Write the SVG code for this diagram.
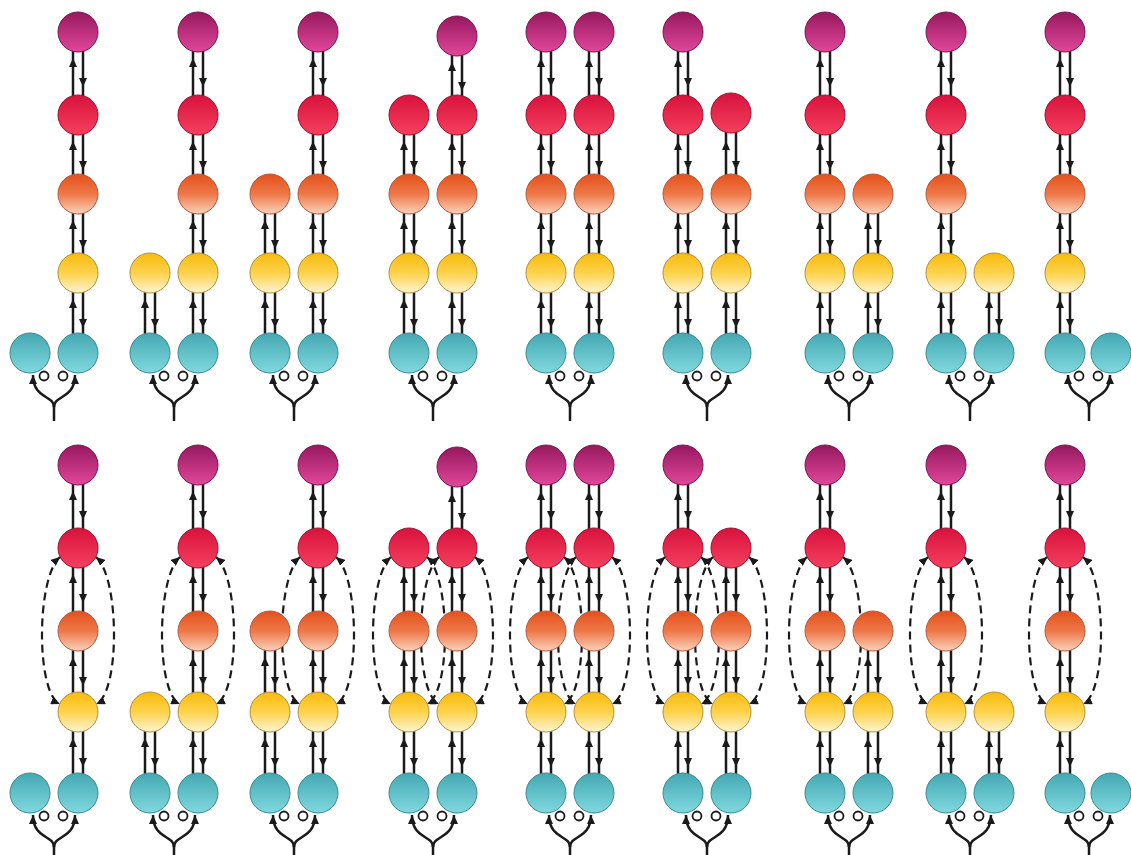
<svg xmlns="http://www.w3.org/2000/svg" xmlns:xlink="http://www.w3.org/1999/xlink" width="1131" height="855" viewBox="0 0 1131 855">
<style>
circle.m,circle.r,circle.o,circle.y,circle.t{r:20px}
.m{fill:url(#gm);stroke:#7a1450;stroke-width:1}
.r{fill:url(#gr);stroke:#a01030;stroke-width:1}
.o{fill:url(#go);stroke:#b05a40;stroke-width:1}
.y{fill:url(#gy);stroke:#b09040;stroke-width:1}
.t{fill:url(#gt);stroke:#3a8a92;stroke-width:1}
.ln{fill:none;stroke:#1a1a1a;stroke-width:2.5}
.ds{fill:none;stroke:#1a1a1a;stroke-width:2.2;stroke-dasharray:8 5}
.lp{fill:#fff;stroke:#1a1a1a;stroke-width:1.8}
</style>
<defs>
<linearGradient id="gm" x1="0" y1="0" x2="0" y2="1"><stop offset="0" stop-color="#96185f"/><stop offset="1" stop-color="#e2479a"/></linearGradient>
<linearGradient id="gr" x1="0" y1="0" x2="0" y2="1"><stop offset="0" stop-color="#d8123d"/><stop offset="1" stop-color="#f5405e"/></linearGradient>
<linearGradient id="go" x1="0" y1="0" x2="0" y2="1"><stop offset="0" stop-color="#e4501c"/><stop offset="0.5" stop-color="#ee7848"/><stop offset="1" stop-color="#fbd2bc"/></linearGradient>
<linearGradient id="gy" x1="0" y1="0" x2="0" y2="1"><stop offset="0" stop-color="#f8bb0c"/><stop offset="0.5" stop-color="#fdd24c"/><stop offset="1" stop-color="#fff4d4"/></linearGradient>
<linearGradient id="gt" x1="0" y1="0" x2="0" y2="1"><stop offset="0" stop-color="#44a8b2"/><stop offset="1" stop-color="#80d8de"/></linearGradient>
<marker id="ah" viewBox="0 0 9 8" refX="9" refY="4" markerWidth="9" markerHeight="8" markerUnits="userSpaceOnUse" orient="auto"><path d="M0,0 L9,4 L0,8 z" fill="#1a1a1a"/></marker>
<marker id="ad" viewBox="0 0 9 8" refX="9" refY="4" markerWidth="9" markerHeight="8" markerUnits="userSpaceOnUse" orient="auto-start-reverse"><path d="M0,0 L9,4 L0,8 z" fill="#1a1a1a"/></marker>
<g id="e">
<path class="ln" d="M-5,66 L-5,26 L-5,15" marker-mid="url(#ah)"/>
<path class="ln" d="M5,15 L5,55 L5,66" marker-mid="url(#ah)"/>
</g>
<g id="yc">
<path class="ln" d="M24,68 L24,52"/>
<path class="ln" d="M24,54 C24,42 3,46 3,22" marker-end="url(#ah)"/>
<path class="ln" d="M24,54 C24,42 45,46 45,22" marker-end="url(#ah)"/>
<circle class="lp" cx="14" cy="23" r="4.5"/>
<circle class="lp" cx="33" cy="23" r="4.5"/>
</g>
<g id="el">
<path class="ds" d="M-18,9 C-42,30 -42,146 -18,156" marker-start="url(#ad)" marker-end="url(#ad)"/>
<path class="ds" d="M18,9 C42,30 42,146 18,156" marker-start="url(#ad)" marker-end="url(#ad)"/>
</g>
</defs>
<g id="connectors">
<use href="#e" x="78" y="32"/><use href="#e" x="78" y="115"/><use href="#e" x="78" y="194"/><use href="#e" x="78" y="273"/>
<use href="#e" x="198" y="32"/><use href="#e" x="198" y="115"/><use href="#e" x="198" y="194"/><use href="#e" x="198" y="273"/><use href="#e" x="150" y="273"/>
<use href="#e" x="318" y="32"/><use href="#e" x="318" y="115"/><use href="#e" x="318" y="194"/><use href="#e" x="318" y="273"/><use href="#e" x="270" y="194"/><use href="#e" x="270" y="273"/>
<use href="#e" x="457" y="36"/><use href="#e" x="457" y="115"/><use href="#e" x="457" y="194"/><use href="#e" x="457" y="273"/><use href="#e" x="409" y="115"/><use href="#e" x="409" y="194"/><use href="#e" x="409" y="273"/>
<use href="#e" x="546" y="32"/><use href="#e" x="546" y="115"/><use href="#e" x="546" y="194"/><use href="#e" x="546" y="273"/><use href="#e" x="594" y="32"/><use href="#e" x="594" y="115"/><use href="#e" x="594" y="194"/><use href="#e" x="594" y="273"/>
<use href="#e" x="683" y="32"/><use href="#e" x="683" y="115"/><use href="#e" x="683" y="194"/><use href="#e" x="683" y="273"/><use href="#e" x="731" y="115"/><use href="#e" x="731" y="194"/><use href="#e" x="731" y="273"/>
<use href="#e" x="825" y="32"/><use href="#e" x="825" y="115"/><use href="#e" x="825" y="194"/><use href="#e" x="825" y="273"/><use href="#e" x="873" y="194"/><use href="#e" x="873" y="273"/>
<use href="#e" x="946" y="32"/><use href="#e" x="946" y="115"/><use href="#e" x="946" y="194"/><use href="#e" x="946" y="273"/><use href="#e" x="994" y="273"/>
<use href="#e" x="1065" y="32"/><use href="#e" x="1065" y="115"/><use href="#e" x="1065" y="194"/><use href="#e" x="1065" y="273"/>
<use href="#yc" x="30" y="353"/><use href="#yc" x="150" y="353"/><use href="#yc" x="270" y="353"/><use href="#yc" x="409" y="353"/><use href="#yc" x="546" y="353"/><use href="#yc" x="683" y="353"/><use href="#yc" x="825" y="353"/><use href="#yc" x="946" y="353"/><use href="#yc" x="1065" y="353"/>

<use href="#e" x="78" y="465"/><use href="#e" x="78" y="548"/><use href="#e" x="78" y="631"/><use href="#e" x="78" y="712"/>
<use href="#e" x="198" y="465"/><use href="#e" x="198" y="548"/><use href="#e" x="198" y="631"/><use href="#e" x="198" y="712"/><use href="#e" x="150" y="712"/>
<use href="#e" x="318" y="465"/><use href="#e" x="318" y="548"/><use href="#e" x="318" y="631"/><use href="#e" x="318" y="712"/><use href="#e" x="270" y="631"/><use href="#e" x="270" y="712"/>
<use href="#e" x="457" y="467"/><use href="#e" x="457" y="548"/><use href="#e" x="457" y="631"/><use href="#e" x="457" y="712"/><use href="#e" x="409" y="548"/><use href="#e" x="409" y="631"/><use href="#e" x="409" y="712"/>
<use href="#e" x="546" y="465"/><use href="#e" x="546" y="548"/><use href="#e" x="546" y="631"/><use href="#e" x="546" y="712"/><use href="#e" x="594" y="465"/><use href="#e" x="594" y="548"/><use href="#e" x="594" y="631"/><use href="#e" x="594" y="712"/>
<use href="#e" x="683" y="465"/><use href="#e" x="683" y="548"/><use href="#e" x="683" y="631"/><use href="#e" x="683" y="712"/><use href="#e" x="731" y="548"/><use href="#e" x="731" y="631"/><use href="#e" x="731" y="712"/>
<use href="#e" x="825" y="465"/><use href="#e" x="825" y="548"/><use href="#e" x="825" y="631"/><use href="#e" x="825" y="712"/><use href="#e" x="873" y="631"/><use href="#e" x="873" y="712"/>
<use href="#e" x="946" y="465"/><use href="#e" x="946" y="548"/><use href="#e" x="946" y="631"/><use href="#e" x="946" y="712"/><use href="#e" x="994" y="712"/>
<use href="#e" x="1065" y="465"/><use href="#e" x="1065" y="548"/><use href="#e" x="1065" y="631"/><use href="#e" x="1065" y="712"/>
<use href="#yc" x="30" y="793"/><use href="#yc" x="150" y="793"/><use href="#yc" x="270" y="793"/><use href="#yc" x="409" y="793"/><use href="#yc" x="546" y="793"/><use href="#yc" x="683" y="793"/><use href="#yc" x="825" y="793"/><use href="#yc" x="946" y="793"/><use href="#yc" x="1065" y="793"/>
<use href="#el" x="78" y="548"/><use href="#el" x="198" y="548"/><use href="#el" x="318" y="548"/><use href="#el" x="409" y="548"/><use href="#el" x="457" y="548"/><use href="#el" x="546" y="548"/><use href="#el" x="594" y="548"/><use href="#el" x="683" y="548"/><use href="#el" x="731" y="548"/><use href="#el" x="825" y="548"/><use href="#el" x="946" y="548"/><use href="#el" x="1065" y="548"/>
</g>
<g id="nodes-top">
<g id="a1m"><circle class="m" cx="78" cy="32" r="20"/></g><g id="a1r"><circle class="r" cx="78" cy="115" r="20"/></g><g id="a1o"><circle class="o" cx="78" cy="194" r="20"/></g><g id="a1y"><circle class="y" cx="78" cy="273" r="20"/></g><g id="a1t"><circle class="t" cx="78" cy="353" r="20"/></g><g id="a1t2"><circle class="t" cx="30" cy="353" r="20"/></g>
<g id="a2m"><circle class="m" cx="198" cy="32" r="20"/></g><g id="a2r"><circle class="r" cx="198" cy="115" r="20"/></g><g id="a2o"><circle class="o" cx="198" cy="194" r="20"/></g><g id="a2y"><circle class="y" cx="198" cy="273" r="20"/></g><g id="a2t"><circle class="t" cx="198" cy="353" r="20"/></g><g id="a2y2"><circle class="y" cx="150" cy="273" r="20"/></g><g id="a2t2"><circle class="t" cx="150" cy="353" r="20"/></g>
<g id="a3m"><circle class="m" cx="318" cy="32" r="20"/></g><g id="a3r"><circle class="r" cx="318" cy="115" r="20"/></g><g id="a3o"><circle class="o" cx="318" cy="194" r="20"/></g><g id="a3y"><circle class="y" cx="318" cy="273" r="20"/></g><g id="a3t"><circle class="t" cx="318" cy="353" r="20"/></g><g id="a3o2"><circle class="o" cx="270" cy="194" r="20"/></g><g id="a3y2"><circle class="y" cx="270" cy="273" r="20"/></g><g id="a3t2"><circle class="t" cx="270" cy="353" r="20"/></g>
<g id="a4m"><circle class="m" cx="457" cy="36" r="20"/></g><g id="a4r"><circle class="r" cx="457" cy="115" r="20"/></g><g id="a4o"><circle class="o" cx="457" cy="194" r="20"/></g><g id="a4y"><circle class="y" cx="457" cy="273" r="20"/></g><g id="a4t"><circle class="t" cx="457" cy="353" r="20"/></g><g id="a4r2"><circle class="r" cx="409" cy="115" r="20"/></g><g id="a4o2"><circle class="o" cx="409" cy="194" r="20"/></g><g id="a4y2"><circle class="y" cx="409" cy="273" r="20"/></g><g id="a4t2"><circle class="t" cx="409" cy="353" r="20"/></g>
<g id="a5m"><circle class="m" cx="546" cy="32" r="20"/></g><g id="a5r"><circle class="r" cx="546" cy="115" r="20"/></g><g id="a5o"><circle class="o" cx="546" cy="194" r="20"/></g><g id="a5y"><circle class="y" cx="546" cy="273" r="20"/></g><g id="a5t"><circle class="t" cx="546" cy="353" r="20"/></g><g id="a5m2"><circle class="m" cx="594" cy="32" r="20"/></g><g id="a5r2"><circle class="r" cx="594" cy="115" r="20"/></g><g id="a5o2"><circle class="o" cx="594" cy="194" r="20"/></g><g id="a5y2"><circle class="y" cx="594" cy="273" r="20"/></g><g id="a5t2"><circle class="t" cx="594" cy="353" r="20"/></g>
<g id="a6m"><circle class="m" cx="683" cy="32" r="20"/></g><g id="a6r"><circle class="r" cx="683" cy="115" r="20"/></g><g id="a6o"><circle class="o" cx="683" cy="194" r="20"/></g><g id="a6y"><circle class="y" cx="683" cy="273" r="20"/></g><g id="a6t"><circle class="t" cx="683" cy="353" r="20"/></g><g id="a6r2"><circle class="r" cx="731" cy="113" r="20"/></g><g id="a6o2"><circle class="o" cx="731" cy="194" r="20"/></g><g id="a6y2"><circle class="y" cx="731" cy="273" r="20"/></g><g id="a6t2"><circle class="t" cx="731" cy="353" r="20"/></g>
<g id="a7m"><circle class="m" cx="825" cy="32" r="20"/></g><g id="a7r"><circle class="r" cx="825" cy="115" r="20"/></g><g id="a7o"><circle class="o" cx="825" cy="194" r="20"/></g><g id="a7y"><circle class="y" cx="825" cy="273" r="20"/></g><g id="a7t"><circle class="t" cx="825" cy="353" r="20"/></g><g id="a7o2"><circle class="o" cx="873" cy="194" r="20"/></g><g id="a7y2"><circle class="y" cx="873" cy="273" r="20"/></g><g id="a7t2"><circle class="t" cx="873" cy="353" r="20"/></g>
<g id="a8m"><circle class="m" cx="946" cy="32" r="20"/></g><g id="a8r"><circle class="r" cx="946" cy="115" r="20"/></g><g id="a8o"><circle class="o" cx="946" cy="194" r="20"/></g><g id="a8y"><circle class="y" cx="946" cy="273" r="20"/></g><g id="a8t"><circle class="t" cx="946" cy="353" r="20"/></g><g id="a8y2"><circle class="y" cx="994" cy="273" r="20"/></g><g id="a8t2"><circle class="t" cx="994" cy="353" r="20"/></g>
<g id="a9m"><circle class="m" cx="1065" cy="32" r="20"/></g><g id="a9r"><circle class="r" cx="1065" cy="115" r="20"/></g><g id="a9o"><circle class="o" cx="1065" cy="194" r="20"/></g><g id="a9y"><circle class="y" cx="1065" cy="273" r="20"/></g><g id="a9t"><circle class="t" cx="1065" cy="353" r="20"/></g><g id="a9t2"><circle class="t" cx="1111" cy="353" r="20"/></g>
</g>
<g id="nodes-bottom">
<g id="b1m"><circle class="m" cx="78" cy="465" r="20"/></g><g id="b1r"><circle class="r" cx="78" cy="548" r="20"/></g><g id="b1o"><circle class="o" cx="78" cy="631" r="20"/></g><g id="b1y"><circle class="y" cx="78" cy="712" r="20"/></g><g id="b1t"><circle class="t" cx="78" cy="793" r="20"/></g><g id="b1t2"><circle class="t" cx="30" cy="793" r="20"/></g>
<g id="b2m"><circle class="m" cx="198" cy="465" r="20"/></g><g id="b2r"><circle class="r" cx="198" cy="548" r="20"/></g><g id="b2o"><circle class="o" cx="198" cy="631" r="20"/></g><g id="b2y"><circle class="y" cx="198" cy="712" r="20"/></g><g id="b2t"><circle class="t" cx="198" cy="793" r="20"/></g><g id="b2y2"><circle class="y" cx="150" cy="712" r="20"/></g><g id="b2t2"><circle class="t" cx="150" cy="793" r="20"/></g>
<g id="b3m"><circle class="m" cx="318" cy="465" r="20"/></g><g id="b3r"><circle class="r" cx="318" cy="548" r="20"/></g><g id="b3o"><circle class="o" cx="318" cy="631" r="20"/></g><g id="b3y"><circle class="y" cx="318" cy="712" r="20"/></g><g id="b3t"><circle class="t" cx="318" cy="793" r="20"/></g><g id="b3o2"><circle class="o" cx="270" cy="631" r="20"/></g><g id="b3y2"><circle class="y" cx="270" cy="712" r="20"/></g><g id="b3t2"><circle class="t" cx="270" cy="793" r="20"/></g>
<g id="b4m"><circle class="m" cx="457" cy="467" r="20"/></g><g id="b4r"><circle class="r" cx="457" cy="548" r="20"/></g><g id="b4o"><circle class="o" cx="457" cy="631" r="20"/></g><g id="b4y"><circle class="y" cx="457" cy="712" r="20"/></g><g id="b4t"><circle class="t" cx="457" cy="793" r="20"/></g><g id="b4r2"><circle class="r" cx="409" cy="548" r="20"/></g><g id="b4o2"><circle class="o" cx="409" cy="631" r="20"/></g><g id="b4y2"><circle class="y" cx="409" cy="712" r="20"/></g><g id="b4t2"><circle class="t" cx="409" cy="793" r="20"/></g>
<g id="b5m"><circle class="m" cx="546" cy="465" r="20"/></g><g id="b5r"><circle class="r" cx="546" cy="548" r="20"/></g><g id="b5o"><circle class="o" cx="546" cy="631" r="20"/></g><g id="b5y"><circle class="y" cx="546" cy="712" r="20"/></g><g id="b5t"><circle class="t" cx="546" cy="793" r="20"/></g><g id="b5m2"><circle class="m" cx="594" cy="465" r="20"/></g><g id="b5r2"><circle class="r" cx="594" cy="548" r="20"/></g><g id="b5o2"><circle class="o" cx="594" cy="631" r="20"/></g><g id="b5y2"><circle class="y" cx="594" cy="712" r="20"/></g><g id="b5t2"><circle class="t" cx="594" cy="793" r="20"/></g>
<g id="b6m"><circle class="m" cx="683" cy="465" r="20"/></g><g id="b6r"><circle class="r" cx="683" cy="548" r="20"/></g><g id="b6o"><circle class="o" cx="683" cy="631" r="20"/></g><g id="b6y"><circle class="y" cx="683" cy="712" r="20"/></g><g id="b6t"><circle class="t" cx="683" cy="793" r="20"/></g><g id="b6r2"><circle class="r" cx="731" cy="548" r="20"/></g><g id="b6o2"><circle class="o" cx="731" cy="631" r="20"/></g><g id="b6y2"><circle class="y" cx="731" cy="712" r="20"/></g><g id="b6t2"><circle class="t" cx="731" cy="793" r="20"/></g>
<g id="b7m"><circle class="m" cx="825" cy="465" r="20"/></g><g id="b7r"><circle class="r" cx="825" cy="548" r="20"/></g><g id="b7o"><circle class="o" cx="825" cy="631" r="20"/></g><g id="b7y"><circle class="y" cx="825" cy="712" r="20"/></g><g id="b7t"><circle class="t" cx="825" cy="793" r="20"/></g><g id="b7o2"><circle class="o" cx="873" cy="631" r="20"/></g><g id="b7y2"><circle class="y" cx="873" cy="712" r="20"/></g><g id="b7t2"><circle class="t" cx="873" cy="793" r="20"/></g>
<g id="b8m"><circle class="m" cx="946" cy="465" r="20"/></g><g id="b8r"><circle class="r" cx="946" cy="548" r="20"/></g><g id="b8o"><circle class="o" cx="946" cy="631" r="20"/></g><g id="b8y"><circle class="y" cx="946" cy="712" r="20"/></g><g id="b8t"><circle class="t" cx="946" cy="793" r="20"/></g><g id="b8y2"><circle class="y" cx="994" cy="712" r="20"/></g><g id="b8t2"><circle class="t" cx="994" cy="793" r="20"/></g>
<g id="b9m"><circle class="m" cx="1065" cy="465" r="20"/></g><g id="b9r"><circle class="r" cx="1065" cy="548" r="20"/></g><g id="b9o"><circle class="o" cx="1065" cy="631" r="20"/></g><g id="b9y"><circle class="y" cx="1065" cy="712" r="20"/></g><g id="b9t"><circle class="t" cx="1065" cy="793" r="20"/></g><g id="b9t2"><circle class="t" cx="1111" cy="793" r="20"/></g>
</g>
</svg>
